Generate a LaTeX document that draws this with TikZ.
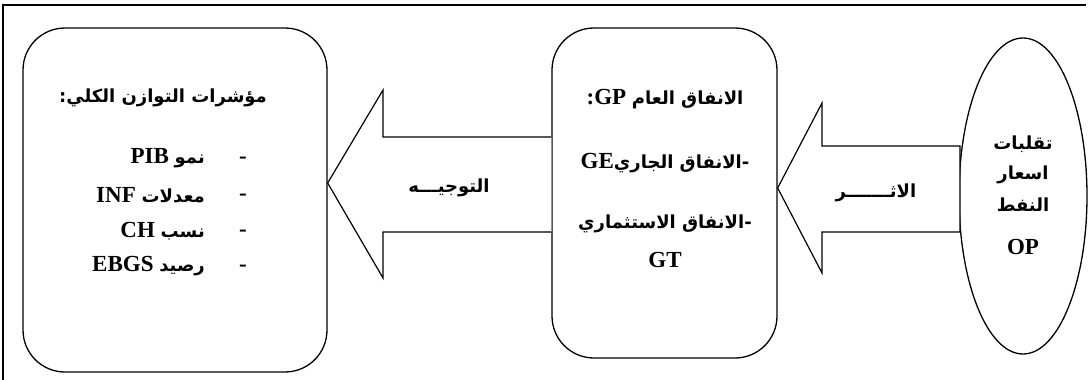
\documentclass[tikz,border=0pt]{standalone}
\usepackage{fontspec}
\setmainfont{Liberation Serif}
\newfontfamily\ar[Script=Arabic]{DejaVu Sans}
\TeXXeTstate=1
\usetikzlibrary{shapes.geometric}
\newcommand\arsz{\ar\fontsize{18}{22}\selectfont}
\begin{document}
\begin{tikzpicture}[x=1pt,y=-1pt,
  box/.style={draw, line width=1.3pt, rounded corners=42pt, fill=white},
  blockarrow/.style={draw, line width=1.2pt, fill=white},
  txt/.style={font=\fontsize{23}{27}\selectfont\bfseries, inner sep=0pt},
  artxt/.style={font=\bfseries\arsz, inner sep=0pt},
  oval/.style={draw, ellipse, line width=1.3pt, fill=white, inner sep=0pt}]
\useasboundingbox (0,0) rectangle (1088,380);
% frame
\coordinate (fbl) at (3,380);
\coordinate (ftl) at (3,5);
\coordinate (ftr) at (1086,5);
\draw[line width=2pt] (fbl) -- (ftl) -- (ftr);
% boxes
\node[box, minimum width=304pt, minimum height=344pt] (ind) at (175,200) {};
\node[box, minimum width=225pt, minimum height=330pt] (gp) at (664.5,193) {};
\node[oval, minimum width=128pt, minimum height=316pt] (op) at (1023,196) {};
% block arrows
\draw[blockarrow] (gp.west |- 0,137) -- (383,137) -- (383,90) -- (ind.east |- 0,183)
  -- (383,278) -- (383,232) -- (gp.west |- 0,232);
\draw[blockarrow] (960,146) -- (822,146) -- (822,103) -- (gp.east |- 0,188)
  -- (822,273) -- (822,232) -- (960,232) -- cycle;
\node[artxt] (lab1) at (449,188) {\beginR التوجيـــه\endR};
\node[artxt] (lab2) at (876,193) {\beginR الاثـــــــر\endR};
% left box text
\node[artxt] (h1) at (163,98) {\beginR مؤشرات التوازن الكلي:\endR};
\node[txt, anchor=east] (l1) at (205,158) {\beginR{\arsz نمو} \beginL PIB\endL\endR};
\node[txt, anchor=east] (l2) at (205,195) {\beginR{\arsz معدلات} \beginL INF\endL\endR};
\node[txt, anchor=east] (l3) at (205,231) {\beginR{\arsz نسب} \beginL CH\endL\endR};
\node[txt, anchor=east] (l4) at (205,266) {\beginR{\arsz رصيد} \beginL EBGS\endL\endR};
\node[txt] (d1) at (243,160) {-};
\node[txt] (d2) at (243,197) {-};
\node[txt] (d3) at (243,233) {-};
\node[txt] (d4) at (243,268) {-};
% middle box text
\node[txt] (m1) at (665,99) {\beginR{\arsz الانفاق العام} \beginL GP\endL:\endR};
\node[txt] (m2) at (665,163) {\beginR{\arsz -الانفاق الجاري}\beginL GE\endL\endR};
\node[artxt] (m3) at (665,224) {\beginR -الانفاق الاستثماري\endR};
\node[txt] (m4) at (665,260) {GT};
% oval text
\node[artxt] (o1) at (1023,144) {\beginR تقلبات\endR};
\node[artxt] (o2) at (1023,175) {\beginR اسعار\endR};
\node[artxt] (o3) at (1023,205) {\beginR النفط\endR};
\node[txt] (o4) at (1023,247) {OP};
\end{tikzpicture}
\end{document}
